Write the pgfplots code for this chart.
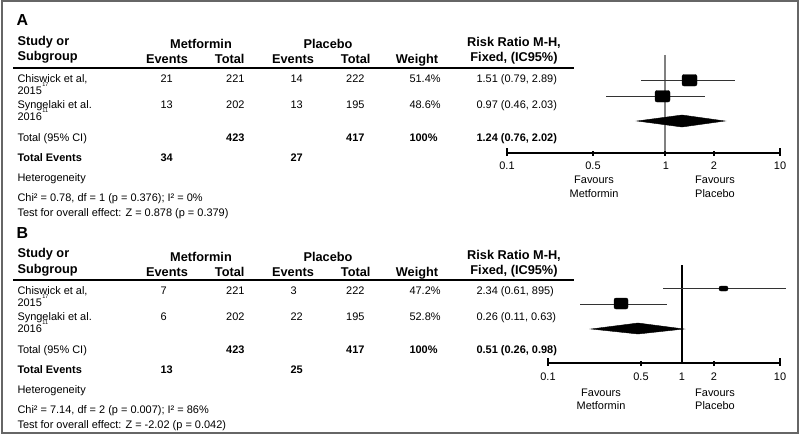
\documentclass[border=0pt]{standalone}
\usepackage{fontspec}
\setmainfont{Liberation Sans}
\usepackage{pgfplots}
\pgfplotsset{compat=1.18}

% font sizes (1 px = 1 bp)
\newcommand{\fn}{\fontsize{11}{13}\selectfont}
\newcommand{\fb}{\fontsize{11}{13}\selectfont\bfseries}
\newcommand{\fh}{\fontsize{12.8}{15}\selectfont\bfseries}
\newcommand{\fl}{\fontsize{16}{18}\selectfont\bfseries}
\newcommand{\sref}[1]{\kern0.5bp\raisebox{7.5bp}{\fontsize{5.5}{6}\selectfont #1}}

% the static part of a panel table, #1 = letter, #2 = vertical offset
\newcommand{\paneltable}[2]{%
  \node[anchor=base west,font=\fl] at (13,{26+#2}) {#1};
  \node[anchor=base west,font=\fh] at (14,{45.5+#2}) {Study or};
  \node[anchor=base west,font=\fh] at (14,{61+#2}) {Subgroup};
  \node[anchor=base,font=\fh] at (201,{49+#2}) {Metformin};
  \node[anchor=base,font=\fh] at (328,{49+#2}) {Placebo};
  \node[anchor=base,font=\fh] at (167,{64+#2}) {Events};
  \node[anchor=base east,font=\fh] at (248,{64+#2}) {Total};
  \node[anchor=base,font=\fh] at (293,{64+#2}) {Events};
  \node[anchor=base east,font=\fh] at (374,{64+#2}) {Total};
  \node[anchor=base,font=\fh] at (417,{64+#2}) {Weight};
  \node[anchor=base,font=\fh] at (514,{47+#2}) {Risk Ratio M-H,};
  \node[anchor=base,font=\fh] at (514,{62+#2}) {Fixed, (IC95\%)};
  \node[anchor=base west,font=\fn] at (14,{82+#2}) {Chiswick et al,};
  \node[anchor=base west,font=\fn] at (14,{94+#2}) {2015\sref{17}};
  \node[anchor=base west,font=\fn] at (14,{108+#2}) {Syngelaki et al.};
  \node[anchor=base west,font=\fn] at (14,{120+#2}) {2016\sref{11}};
  \node[anchor=base west,font=\fn] at (14,{141+#2}) {Total (95\% CI)};
  \node[anchor=base west,font=\fb] at (14,{161+#2}) {Total Events};
  \node[anchor=base west,font=\fn] at (14,{181+#2}) {Heterogeneity};
}

% one data row: #1 y, #2..#7 cells, #8 font
\newcommand{\datarow}[8]{%
  \node[anchor=base west,font=#8] at (157,#1) {#2};
  \node[anchor=base east,font=#8] at (248,#1) {#3};
  \node[anchor=base west,font=#8] at (287,#1) {#4};
  \node[anchor=base east,font=#8] at (368,#1) {#5};
  \node[anchor=base west,font=#8] at (406,#1) {#6};
  \node[anchor=base west,font=#8] at (473,#1) {#7};
}

\begin{document}
\begin{tikzpicture}
\begin{axis}[
    width=800bp, height=442bp, scale only axis,
    xmin=0, xmax=800, ymin=0, ymax=442,
    y dir=reverse,
    hide axis, clip=false,
  ]

  % page and frame
  \addplot[fill=white, draw=none] coordinates {(0,0) (800,0) (800,442) (0,442)} --cycle;
  \addplot[draw=black!60, line width=1.5bp] coordinates {(2,1) (798,1) (798,433) (2,433)} --cycle;

  %%% ---------- panel A ----------
  \paneltable{A}{0}
  \addplot[line width=1.5bp] coordinates {(13,68) (574,68)};
  \datarow{82}{21}{221}{14}{222}{51.4\%}{1.51 (0.79, 2.89)}{\fn}
  \datarow{108}{13}{202}{13}{195}{48.6\%}{0.97 (0.46, 2.03)}{\fn}
  \node[anchor=base east,font=\fb] at (248,141) {423};
  \node[anchor=base east,font=\fb] at (368,141) {417};
  \node[anchor=base west,font=\fb] at (406,141) {100\%};
  \node[anchor=base west,font=\fb] at (473,141) {1.24 (0.76, 2.02)};
  \node[anchor=base west,font=\fb] at (157,161) {34};
  \node[anchor=base west,font=\fb] at (287,161) {27};
  \node[anchor=base west,font=\fn] at (14,201) {Chi² = 0.78, df = 1 (p = 0.376); I² = 0\%};
  \node[anchor=base west,font=\fn] at (14,216) {Test for overall effect: Z = 0.878 (p = 0.379)};

  % forest A
  \addplot[draw=black!50, line width=2bp] coordinates {(665,55) (665,153)};
  \addplot[draw=black!80, line width=1bp] coordinates {(641,80) (735,80)};
  \addplot[draw=black!80, line width=1bp] coordinates {(606,96) (705,96)};
  \addplot[fill=black, draw=black, rounded corners=2bp] coordinates {(682,74.5) (697,74.5) (697,86) (682,86)} --cycle;
  \addplot[fill=black, draw=black, rounded corners=2bp] coordinates {(655,90.5) (670,90.5) (670,102) (655,102)} --cycle;
  \addplot[fill=black, draw=black] coordinates {(637,121) (682,115) (725,121) (682,127)} --cycle;
  \addplot[black, line width=1.2bp] coordinates {(507,153) (780,153)};
  \addplot[black, line width=1.5bp] coordinates {(507,148) (507,156)};
  \addplot[black, line width=1.5bp] coordinates {(593,151) (593,156)};
  \addplot[black, line width=1.5bp] coordinates {(665,151) (665,156)};
  \addplot[black, line width=1.5bp] coordinates {(714,151) (714,156)};
  \addplot[black, line width=1.5bp] coordinates {(780,148) (780,156)};
  \node[anchor=base,font=\fn] at (507,169) {0.1};
  \node[anchor=base,font=\fn] at (593,169) {0.5};
  \node[anchor=base,font=\fn] at (666,169) {1};
  \node[anchor=base,font=\fn] at (714,169) {2};
  \node[anchor=base,font=\fn] at (780,169) {10};
  \node[anchor=base,font=\fn] at (594,183) {Favours};
  \node[anchor=base,font=\fn] at (594,197) {Metformin};
  \node[anchor=base,font=\fn] at (715,183) {Favours};
  \node[anchor=base,font=\fn] at (715,197) {Placebo};

  %%% ---------- panel B ----------
  \paneltable{B}{212}
  \addplot[line width=1.5bp] coordinates {(13,280) (574,280)};
  \datarow{294}{7}{221}{3}{222}{47.2\%}{2.34 (0.61, 895)}{\fn}
  \datarow{320}{6}{202}{22}{195}{52.8\%}{0.26 (0.11, 0.63)}{\fn}
  \node[anchor=base east,font=\fb] at (248,353) {423};
  \node[anchor=base east,font=\fb] at (368,353) {417};
  \node[anchor=base west,font=\fb] at (406,353) {100\%};
  \node[anchor=base west,font=\fb] at (473,353) {0.51 (0.26, 0.98)};
  \node[anchor=base west,font=\fb] at (157,373) {13};
  \node[anchor=base west,font=\fb] at (287,373) {25};
  \node[anchor=base west,font=\fn] at (14,413) {Chi² = 7.14, df = 2 (p = 0.007); I² = 86\%};
  \node[anchor=base west,font=\fn] at (14,428) {Test for overall effect: Z = -2.02 (p = 0.042)};

  % forest B
  \addplot[draw=black, line width=1.5bp] coordinates {(682,265) (682,364)};
  \addplot[draw=black!80, line width=1bp] coordinates {(663,288) (786,288)};
  \addplot[draw=black!80, line width=1bp] coordinates {(580,304) (667,304)};
  \addplot[fill=black, draw=black, rounded corners=2bp] coordinates {(719,286) (728,286) (728,291) (719,291)} --cycle;
  \addplot[fill=black, draw=black, rounded corners=2bp] coordinates {(614,298) (628,298) (628,309) (614,309)} --cycle;
  \addplot[fill=black, draw=black] coordinates {(591,329) (638,323) (684,329) (638,334)} --cycle;
  \addplot[black, line width=1.2bp] coordinates {(548,363) (780,363)};
  \addplot[black, line width=1.5bp] coordinates {(548,358) (548,366)};
  \addplot[black, line width=1.5bp] coordinates {(641,361) (641,366)};
  \addplot[black, line width=1.5bp] coordinates {(714,361) (714,366)};
  \addplot[black, line width=1.5bp] coordinates {(780,358) (780,366)};
  \node[anchor=base,font=\fn] at (548,380) {0.1};
  \node[anchor=base,font=\fn] at (641,380) {0.5};
  \node[anchor=base,font=\fn] at (682,380) {1};
  \node[anchor=base,font=\fn] at (714,380) {2};
  \node[anchor=base,font=\fn] at (780,380) {10};
  \node[anchor=base,font=\fn] at (601,396) {Favours};
  \node[anchor=base,font=\fn] at (601,409) {Metformin};
  \node[anchor=base,font=\fn] at (715,396) {Favours};
  \node[anchor=base,font=\fn] at (715,409) {Placebo};

\end{axis}
\end{tikzpicture}
\end{document}
